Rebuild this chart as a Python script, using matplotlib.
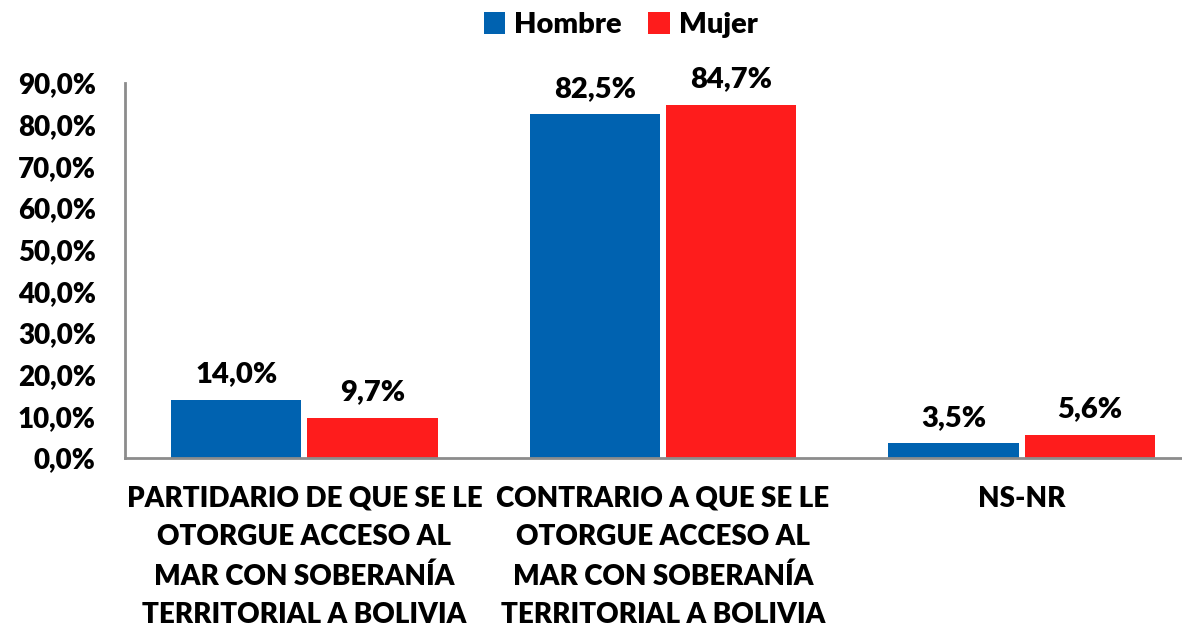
import numpy as np
import matplotlib.pyplot as plt

plt.rcParams['font.family'] = ['Lato', 'DejaVu Sans']
plt.rcParams['font.weight'] = 'heavy'

categorias = ['PARTIDARIO DE QUE SE LE\nOTORGUE ACCESO AL\nMAR CON SOBERANÍA\nTERRITORIAL A BOLIVIA',
              'CONTRARIO A QUE SE LE\nOTORGUE ACCESO AL\nMAR CON SOBERANÍA\nTERRITORIAL A BOLIVIA',
              'NS-NR']
hombre = [14.0, 82.5, 3.5]
mujer = [9.7, 84.7, 5.6]
yticks = np.arange(0, 100, 10)

azul = '#0062b0'
rojo = '#fe1c1c'

fig = plt.figure(figsize=(11.82, 6.32), dpi=100)
ax = fig.add_axes([125/1182, 174/632, 1076/1182, 375/632])

x = np.arange(len(categorias))
w = 0.363
b1 = ax.bar(x - 0.19, hombre, w, color=azul, label='Hombre')
b2 = ax.bar(x + 0.19, mujer, w, color=rojo, label='Mujer')

for bars, vals in ((b1, hombre), (b2, mujer)):
    for r, v in zip(bars, vals):
        ax.annotate(f'{v:.1f}%'.replace('.', ','), (r.get_x() + r.get_width()/2, v),
                    xytext=(0, 9), textcoords='offset points', ha='center', va='bottom',
                    fontsize=21, fontweight='heavy')

ax.set_xlim(-0.5, 2.5)
ax.set_ylim(0, 90)
ax.set_yticks(yticks)
ax.set_yticklabels([f'{t:.1f}%'.replace('.', ',') for t in yticks], fontsize=20, fontweight='heavy')
ax.set_xticks(x)
ax.set_xticklabels(categorias, fontsize=20, fontweight='heavy', linespacing=1.6)
ax.tick_params(axis='both', length=0)
ax.tick_params(axis='x', pad=20)
ax.tick_params(axis='y', pad=21)

for s in ('top', 'right'):
    ax.spines[s].set_visible(False)
for s in ('left', 'bottom'):
    ax.spines[s].set_color('#8c8c8c')
    ax.spines[s].set_linewidth(2)

fig.legend(handles=[b1, b2], loc='upper center', bbox_to_anchor=(0.525, 1.022), ncol=2,
           frameon=False, handlelength=0.75, handleheight=0.75,
           handletextpad=0.3, columnspacing=0.9, prop={'weight': 'heavy', 'size': 21})

fig.savefig('out.png', dpi=100)
